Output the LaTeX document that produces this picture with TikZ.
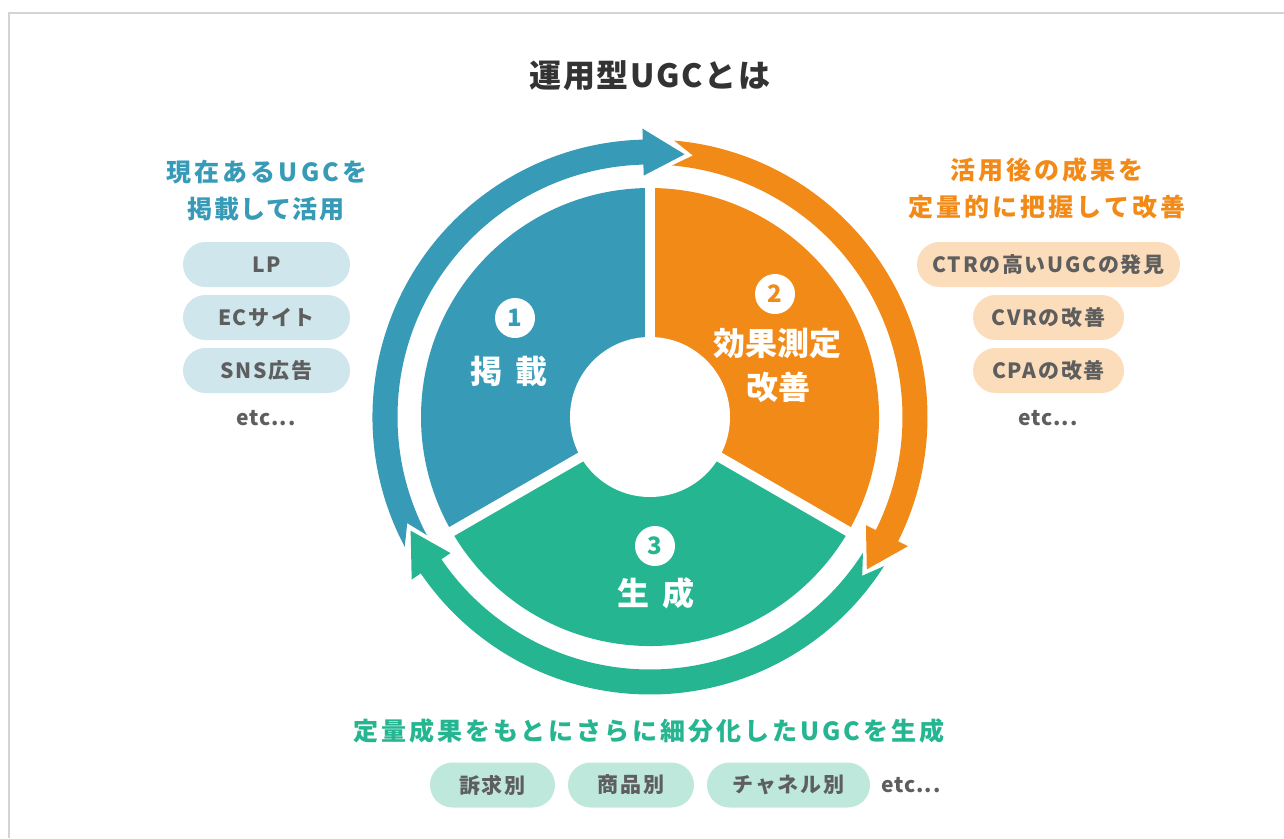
\documentclass[tikz,border=0pt]{standalone}
\usepackage{fontspec}
\setmainfont{Noto Sans CJK JP}
\definecolor{cblue}{HTML}{379BB8}
\definecolor{corange}{HTML}{F28A18}
\definecolor{cgreen}{HTML}{25B691}
\definecolor{lblue}{HTML}{CFE6ED}
\definecolor{lorange}{HTML}{FCDDBB}
\definecolor{lgreen}{HTML}{BEE8DC}
\definecolor{ctext}{HTML}{5E5E5E}
\definecolor{ctitle}{HTML}{333333}
\definecolor{cframe}{HTML}{D4D4D4}
\newcommand{\cyclearrow}[4]{%
  \pgfmathsetmacro\notchang{#2-4.3}%
  \fill[#1] (#2:277.5) arc[start angle=#2, end angle=#3, radius=277.5]
    -- (#3:288.5) -- (#4:265) -- (#3:241.5) -- (#3:252.5)
    arc[start angle=#3, end angle=#2, radius=252.5] -- (\notchang:265) -- cycle;}
\newcommand{\fsz}[2]{\fontsize{#1}{#1}\selectfont\bfseries\addfontfeature{LetterSpace=#2}}
\begin{document}
\begin{tikzpicture}[x=1pt,y=-1pt,
  pill/.style={rounded corners=22.5pt, minimum height=45pt, inner sep=0pt, text=ctext, font=\fsz{21}{8}},
  numc/.style={circle, fill=white, minimum size=40pt, inner sep=0pt, font=\fsz{24}{0}},
  seglabel/.style={text=white, inner sep=0pt, font=\fsz{32}{0}},
  head/.style={inner sep=0pt, font=\fsz{25}{12}},
  etc/.style={inner sep=0pt, text=ctext, font=\fsz{21}{4}}]
\useasboundingbox (0,0) rectangle (1284,838);
\fill[white] (0,0) rectangle (1284,838);
\draw[cframe, line width=1.5pt] (9,838) -- (9,13) -- (1284,13);
% ring of arrows and pie
\begin{scope}[shift={(650,417)}, yscale=-1]
  \cyclearrow{cblue}{207.9}{91.5}{82.5}
  \cyclearrow{corange}{85}{-26.6}{-35.1}
  \cyclearrow{cgreen}{-32.5}{-145.7}{-154.6}
  \fill[cblue] (0,0) -- (90:229) arc[start angle=90, end angle=210, radius=229] -- cycle;
  \fill[corange] (0,0) -- (-30:229) arc[start angle=-30, end angle=90, radius=229] -- cycle;
  \fill[cgreen] (0,0) -- (210:229) arc[start angle=210, end angle=330, radius=229] -- cycle;
  \draw[white, line width=10pt] (0,0) -- (90:236);
  \draw[white, line width=10pt] (0,0) -- (210:236);
  \draw[white, line width=10pt] (0,0) -- (-30:236);
  \fill[white] (0,0) circle[radius=80];
\end{scope}
% title
\node[inner sep=0pt, text=ctitle, font=\fsz{32}{5}] (title) at (650,76) {運用型UGCとは};
% segment labels
\node[numc, text=cblue] (n1) at (515,318) {1};
\node[seglabel] (s1) at (509,371) {掲\hspace{13pt}載};
\node[numc, text=corange] (n2) at (775,294) {2};
\node[seglabel] (s2a) at (777,343) {効果測定};
\node[seglabel] (s2b) at (778,387) {改善};
\node[numc, text=cgreen] (n3) at (655,546) {3};
\node[seglabel] (s3) at (656,593) {生\hspace{13pt}成};
% left block
\node[head, text=cblue] (lh1) at (267,172) {現在あるUGCを};
\node[head, text=cblue, font=\fsz{25}{6}] (lh2) at (266,209) {掲載して活用};
\node[pill, fill=lblue, minimum width=167pt] (lp1) at (266.5,264.5) {LP};
\node[pill, fill=lblue, minimum width=167pt] (lp2) at (266.5,317.5) {ECサイト};
\node[pill, fill=lblue, minimum width=167pt] (lp3) at (266.5,370.5) {SNS広告};
\node[etc] (le) at (266,418) {etc...};
% right block
\node[head, text=corange] (rh1) at (1047,170) {活用後の成果を};
\node[head, text=corange] (rh2) at (1047,207) {定量的に把握して改善};
\node[pill, fill=lorange, minimum width=263pt] (rp1) at (1048.5,264.5) {CTRの高いUGCの発見};
\node[pill, fill=lorange, minimum width=151pt] (rp2) at (1048.5,317.5) {CVRの改善};
\node[pill, fill=lorange, minimum width=151pt] (rp3) at (1048.5,370.5) {CPAの改善};
\node[etc] (re) at (1048,418) {etc...};
% bottom block
\node[head, text=cgreen] (bh) at (649,731) {定量成果をもとにさらに細分化したUGCを生成};
\node[pill, fill=lgreen, minimum width=125pt] (bp1) at (492.5,785) {訴求別};
\node[pill, fill=lgreen, minimum width=126pt] (bp2) at (631,785) {商品別};
\node[pill, fill=lgreen, minimum width=163pt] (bp3) at (788.5,785) {チャネル別};
\node[etc] (be) at (911,785) {etc...};
\end{tikzpicture}
\end{document}
